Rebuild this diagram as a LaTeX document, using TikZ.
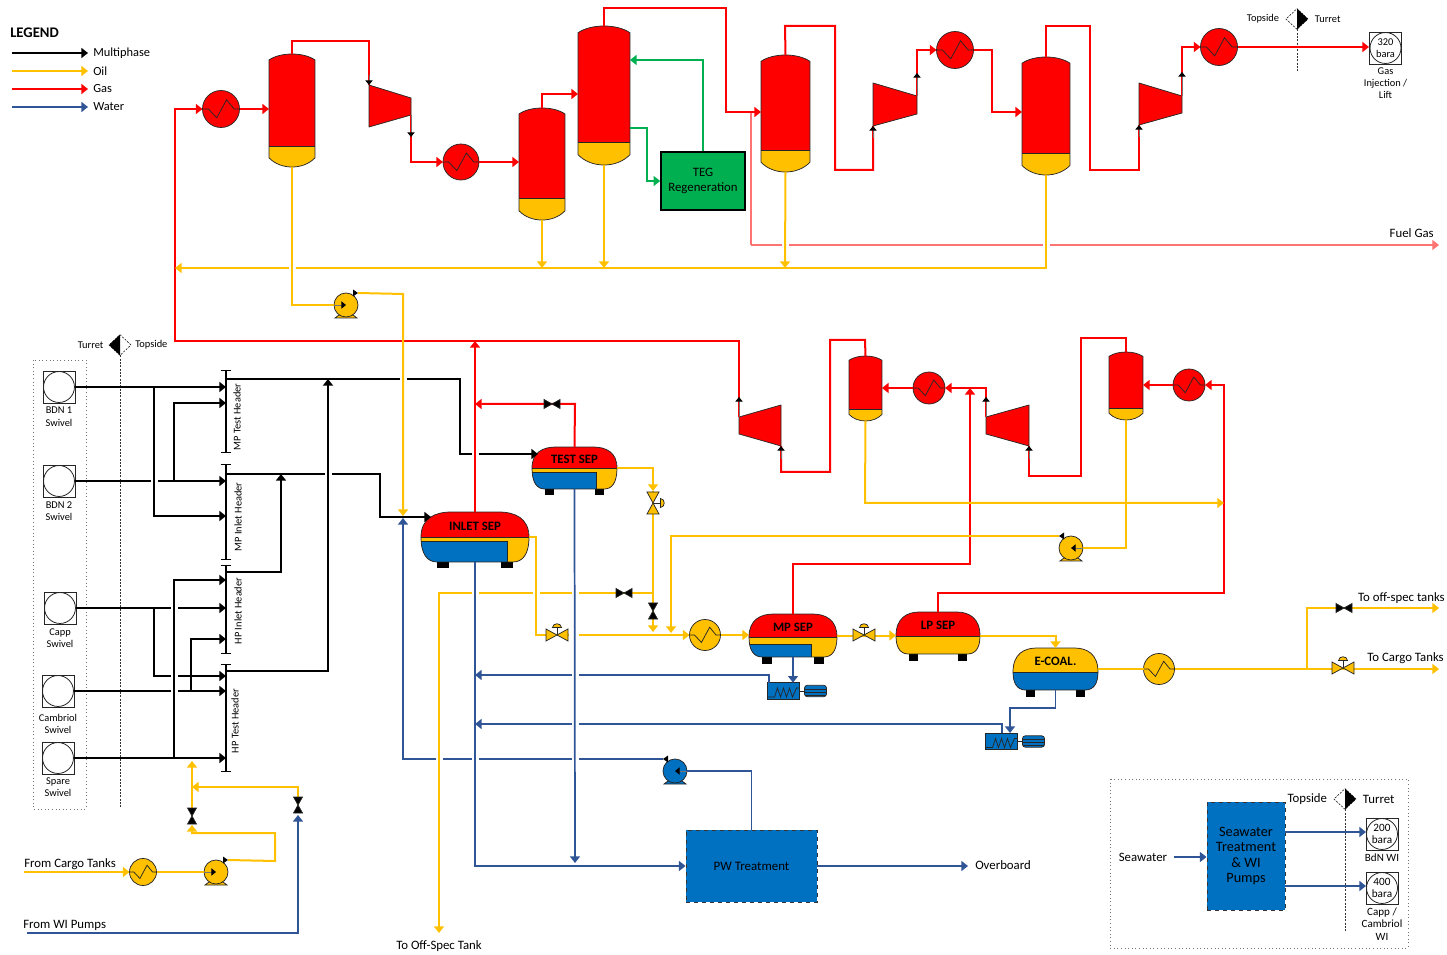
\documentclass[tikz,border=0pt]{standalone}
\usepackage{fontspec}
\setmainfont{Carlito}
\usepackage{tikz}
\usetikzlibrary{arrows.meta,positioning,shapes.geometric}
\definecolor{gasred}{HTML}{FF0000}
\definecolor{oilyel}{HTML}{FFC000}
\definecolor{wtrfill}{HTML}{0070C0}
\definecolor{wtrline}{HTML}{2F5597}
\definecolor{teggreen}{HTML}{00B050}
\newcommand{\fsm}{\fontsize{7.8}{9.2}\selectfont}
\newcommand{\fmd}{\fontsize{9.6}{11.5}\selectfont}
\newcommand{\fbg}{\fontsize{9.6}{11.6}\selectfont}
% vertical vessel: name, left, right, top, split, bottom
\newcommand{\vvessel}[6]{
\begin{scope}
\pgfmathsetmacro{\vw}{#3-#2}
\pgfmathsetmacro{\vt}{#4+.13*\vw}
\pgfmathsetmacro{\vtc}{#4-.043*\vw}
\pgfmathsetmacro{\vb}{#6-.2*\vw}
\pgfmathsetmacro{\vbc}{#6+.067*\vw}
\pgfmathsetmacro{\va}{#2+.25*\vw}
\pgfmathsetmacro{\vc}{#3-.25*\vw}
\def\vpath{(#2,\vt) .. controls (\va,\vtc) and (\vc,\vtc) .. (#3,\vt) -- (#3,\vb) .. controls (\vc,\vbc) and (\va,\vbc) .. (#2,\vb) -- cycle}
\begin{scope}
\clip \vpath;
\fill[gasred] (#2,#4-2) rectangle (#3,#5);
\fill[oilyel] (#2,#5) rectangle (#3,#6+2);
\end{scope}
\draw[eqp] \vpath;
\draw[eqp] (#2,#5) -- (#3,#5);
\node[hook,minimum width={\vw*.75pt},minimum height={(#6-#4)*.75pt}] (#1) at ({(#2+#3)/2},{(#4+#6)/2}) {};
\end{scope}
}
% horizontal separator: name, left, right, top, split, bottom, text, bands
\newcommand{\sepvessel}[8]{
\begin{scope}
\pgfmathsetmacro{\sw}{#3-#2}
\pgfmathsetmacro{\sa}{#5-.75*(#5-#4)}
\pgfmathsetmacro{\sb}{#5+.7*(#6-#5)}
\pgfmathsetmacro{\sla}{#2+.13*\sw}
\pgfmathsetmacro{\slb}{#2+.28*\sw}
\pgfmathsetmacro{\sra}{#3-.13*\sw}
\pgfmathsetmacro{\srb}{#3-.28*\sw}
\pgfmathsetmacro{\slc}{#2+.06*\sw}
\pgfmathsetmacro{\sld}{#2+.15*\sw}
\pgfmathsetmacro{\src}{#3-.06*\sw}
\pgfmathsetmacro{\srd}{#3-.15*\sw}
\def\spath{(#2,#5) .. controls (#2,\sa) and (\sla,#4) .. (\slb,#4) -- (\srb,#4) .. controls (\sra,#4) and (#3,\sa) .. (#3,#5) .. controls (#3,\sb) and (\src,#6) .. (\srd,#6) -- (\sld,#6) .. controls (\slc,#6) and (#2,\sb) .. cycle}
\fill[black] (\sld,#6) rectangle ({\sld+.11*\sw},#6+6.5);
\fill[black] (\srd,#6) rectangle ({\srd-.11*\sw},#6+6.5);
\begin{scope}
\clip \spath;
\fill[gasred] (#2,#4) rectangle (#3,#6);
#8
\draw[eqp] (#2,#5) -- (#3,#5);
\end{scope}
\draw[eqp] \spath;
\node[hook,minimum width={\sw*.75pt},minimum height={(#6-#4)*.75pt}] (#1) at ({(#2+#3)/2},{(#4+#6)/2}) {};
\node[septxt] (#1t) at ({(#2+#3)/2},{(#4+#5)/2+1.5}) {#7};
\end{scope}
}
% compressor: name, left x, left top, left bottom, right x, right top, right bottom
\newcommand{\compr}[7]{
\coordinate (#1a) at (#2,#3);
\coordinate (#1b) at (#2,#4);
\coordinate (#1c) at (#5,#6);
\coordinate (#1d) at (#5,#7);
\draw[eqp,fill=gasred] (#1a) -- (#1c) -- (#1d) -- (#1b) -- cycle;
}
% pump: name, x, y, colour, direction
\newcommand{\pump}[5]{
\draw[eqp,fill=#4] ({#2-11},#3+13) -- ({#2-7},#3+10) -- ({#2+7},#3+10) -- ({#2+11},#3+13) -- cycle;
\node[pumpc,fill=#4] (#1) at (#2,#3) {};
\coordinate (#1o) at ({#2+#5*12},#3-12);
\fill[black] ({#2+#5*7},#3-15.5) -- ({#2+#5*12},#3-12) -- ({#2+#5*7},#3-8.5) -- cycle;
\draw[stub] ({#2-#5*13},#3) -- (#1.center);
}
% hand valve: name, x, y, rotation, colour
\newcommand{\bowv}[5]{
\coordinate (#1) at (#2,#3);
\begin{scope}[shift={(#1)},rotate=#4]
\draw[eqp,fill=#5] (-8,-4.5) -- (8,4.5) -- (8,-4.5) -- (-8,4.5) -- cycle;
\end{scope}
}
% control valve: name, x, y, rotation
\newcommand{\ctlv}[4]{
\coordinate (#1) at (#2,#3);
\begin{scope}[shift={(#1)},rotate=#4]
\draw[eqp] (0,0) -- (0,-8);
\draw[eqp,fill=oilyel] (-11,-6) -- (11,6) -- (11,-6) -- (-11,6) -- cycle;
\draw[eqp,fill=oilyel] (-4.5,-7.5) .. controls (-4,-12.5) and (4,-12.5) .. (4.5,-7.5) -- cycle;
\end{scope}
}
% heater box with motor: name, x, y
\newcommand{\cooler}[3]{
\node[clbox] (#1) at (#2,#3) {};
\node[clmot,right=3.5pt of #1] (#1m) {};
\draw[eqp] (#1) -- (#1m);
}
\newcommand{\cuth}[2]{\draw[white,line width=2.8pt] ({#1-3.5},#2) -- ({#1+3.5},#2);}
\begin{document}
\begin{tikzpicture}[x=.75pt,y=-.75pt,
node distance=2pt,
eqp/.style={draw=black!85,line width=.55pt},
hook/.style={inner sep=0,outer sep=0},
septxt/.style={inner sep=0,font=\fbg\bfseries},
lbl/.style={inner sep=0,align=center,font=\fsm},
lblm/.style={inner sep=0,align=center,font=\fmd},
hdrtxt/.style={inner sep=0,font=\fsm,rotate=90},
gas/.style={draw=gasred,line width=1.5pt},
oil/.style={draw=oilyel,line width=1.5pt},
wtr/.style={draw=wtrline,line width=1.3pt},
mph/.style={draw=black,line width=1.4pt},
grn/.style={draw=teggreen,line width=1.3pt},
fuel/.style={draw=gasred!55,line width=.95pt},
arr/.style={-{Triangle[length=5pt,width=7.5pt]}},
stub/.style={draw=black!55,line width=.7pt,-{Triangle[length=3.5pt,width=5.5pt,color=black]}},
hx/.style n args={2}{circle,eqp,fill=#1,inner sep=0,outer sep=0,minimum size=#2*1.5pt,
path picture={\draw[eqp,shift={(path picture bounding box.center)},x=#2*.75pt,y=-#2*.75pt]
(-1,0) -- (-.68,0) -- (-.23,.48) -- (.3,-.5) -- (.71,0) -- (1,0);}},
pumpc/.style={circle,eqp,inner sep=0,outer sep=0,minimum size=18pt},
swiv/.style={draw=black!85,line width=.7pt,inner sep=0,outer sep=0,minimum size=24pt,align=center,font=\fsm,
path picture={\draw[line width=.6pt] (path picture bounding box.center) circle (11.6pt);}},
clbox/.style={eqp,fill=wtrfill,inner sep=0,outer sep=0,minimum width=24.5pt,minimum height=12.5pt,
path picture={\draw[eqp,shift={(path picture bounding box.center)}]
(-16,6) -- (-9,6) -- (-6,-3) -- (-3,6) -- (0,-3) -- (3,6) -- (6,-3) -- (9,6) -- (13,-3) -- (16,-3);}},
clmot/.style={eqp,fill=wtrfill,rounded corners=2pt,inner sep=0,outer sep=0,minimum width=16.5pt,minimum height=8.5pt,
path picture={\draw[line width=.4pt,shift={(path picture bounding box.center)}]
(-12,-2) -- (12,-2) (-12,1) -- (12,1) (-12,4) -- (12,4);}},
tdia/.style={diamond,draw,dashed,line width=.4pt,dash pattern=on 1.5pt off 1pt,inner sep=0,outer sep=0,minimum width=16.5pt,minimum height=15.5pt},
tline/.style={draw=black!80,line width=.6pt,dash pattern=on 1.5pt off 1pt},
dotbox/.style={draw=black!55,line width=.7pt,dotted},
eqbox/.style={draw=black!80,dashed,line width=.7pt,fill=wtrfill,inner sep=0,align=center,text=black},
hdrbar/.style={mph,{Bar[width=8pt,line width=1.1pt]}-{Bar[width=8pt,line width=1.1pt]}}
]
\useasboundingbox (0,0) rectangle (1447,955);

% legend
\node[inner sep=0,anchor=west,font=\fontsize{11}{13}\selectfont\bfseries] (lgd) at (10,33) {LEGEND};
\foreach \ya/\nm/\st/\txt in {53/lga/mph/Multiphase,71/lgb/oil/Oil,89/lgc/gas/Gas,107/lgd2/wtr/Water}{
\coordinate (\nm s) at (12,\ya);
\coordinate (\nm e) at (88,\ya);
\draw[\st,arr] (\nm s) -- (\nm e);
\node[lblm,anchor=west,font=\fontsize{9.3}{11}\selectfont] (\nm) at (93,\ya) {\txt};
}

% top train vessels
\vvessel{v1}{269}{315}{54}{146}{167}
\vvessel{v2}{519}{565}{108}{198}{220}
\vvessel{v3}{578}{630}{26}{142}{165}
\vvessel{v4}{761}{810}{55}{150}{172}
\vvessel{v5}{1022}{1070}{57}{153}{175}
\vvessel{v6}{849}{882}{356}{409}{421}
\vvessel{v7}{1109}{1143}{352}{408}{420}

\node[hx={gasred}{18.5}] (hx1) at (221,109) {};
\node[hx={gasred}{18}] (hx2) at (461,162) {};
\node[hx={gasred}{18.5}] (hx3) at (955,50) {};
\node[hx={gasred}{18.5}] (hx4) at (1219,47) {};
\node[hx={gasred}{16}] (hx5) at (929,388) {};
\node[hx={gasred}{16}] (hx6) at (1189,385) {};
\node[hx={oilyel}{13.5}] (hx7) at (143,872) {};
\node[hx={oilyel}{15.5}] (hx8) at (705,635) {};
\node[hx={oilyel}{15.5}] (hx9) at (1159,669) {};

\compr{c1}{369}{85}{127}{411}{98}{115}
\compr{c2}{873}{83}{126}{917}{96}{114}
\compr{c3}{1139}{83}{125}{1182}{96}{113}
\compr{c4}{739}{417}{434}{781}{405}{446}
\compr{c5}{986}{417}{434}{1029}{405}{446}

\pump{p1}{346}{305}{oilyel}{1}
\pump{p2}{1071}{548}{oilyel}{-1}
\pump{p3}{216}{872}{oilyel}{1}
\pump{p4}{675}{771}{wtrfill}{-1}

\sepvessel{isep}{421}{529}{512}{537}{562}{INLET SEP}{\fill[oilyel] (421,537) rectangle (529,562); \fill[wtrfill] (421,541) rectangle (507,562); \draw[eqp] (421,541) -- (507,541) -- (507,562);}
\sepvessel{tsep}{532}{617}{447}{468}{489}{TEST SEP}{\fill[oilyel] (532,468) rectangle (617,489); \fill[wtrfill] (532,472) rectangle (596,489); \draw[eqp] (532,472) -- (596,472) -- (596,489);}
\sepvessel{msep}{749}{837}{614}{637}{657}{MP SEP}{\fill[oilyel] (749,637) rectangle (837,657); \fill[wtrfill] (749,644) rectangle (811,657); \draw[eqp] (749,644) -- (811,644) -- (811,657);}
\sepvessel{lsep}{896}{980}{612}{636}{654}{LP SEP}{\fill[oilyel] (896,636) rectangle (980,654);}
\sepvessel{esep}{1013}{1098}{648}{672}{690}{E-COAL.}{\fill[oilyel] (1013,648) rectangle (1098,672); \fill[wtrfill] (1013,672) rectangle (1098,690);}

\cooler{cl1}{783.5}{691}
\cooler{cl2}{1001.5}{741.5}

\node[draw=black,line width=1.2pt,fill=teggreen,inner sep=0,align=center,minimum width=63pt,minimum height=43.5pt,font=\fontsize{9.6}{11.6}\selectfont] (teg) at (703,181) {TEG\\Regeneration};
\node[eqbox,minimum width=98.25pt,minimum height=54pt,font=\fontsize{9.7}{11}\selectfont] (pw) at (751.5,866) {PW Treatment};
\node[eqbox,minimum width=58.5pt,minimum height=81pt,font=\fontsize{10.7}{11.6}\selectfont] (swb) at (1246,856) {Seawater\\Treatment\\\& WI\\Pumps};

% swivels
\draw[dotbox] (33,360) rectangle (86,809);
\node[swiv] (bdn1) at (59,387) {};
\node[swiv] (bdn2) at (59,481) {};
\node[swiv] (capp) at (60,608) {};
\node[swiv] (camb) at (58,691) {};
\node[swiv] (spar) at (58,758) {};
\node[lbl,below=3pt of bdn1] (bdn1t) {BDN 1\\Swivel};
\node[lbl,below=3pt of bdn2] (bdn2t) {BDN 2\\Swivel};
\node[lbl,below=3pt of capp] (cappt) {Capp\\Swivel};
\node[lbl,below=5pt of camb] (cambt) {Cambriol\\Swivel};
\node[lbl,below=2.5pt of spar] (spart) {Spare\\Swivel};
\node[swiv] (inj) at (1385.5,48) {320\\bara};
\node[lbl,below=2.5pt of inj] (injt) {Gas\\Injection /\\Lift};
\node[swiv,font=\fontsize{8.4}{9}\selectfont] (s200) at (1382,834) {200\\bara};
\node[swiv,font=\fontsize{8.4}{9}\selectfont] (s400) at (1382,888) {400\\bara};
\node[lblm,font=\fontsize{8.3}{9.4}\selectfont,below=2.5pt of s200] (s200t) {BdN WI};
\node[lblm,font=\fontsize{8.3}{9.4}\selectfont,below=2.5pt of s400] (s400t) {Capp /\\Cambriol\\WI};

% turret markers
\node[tdia,fill=white] (tur1) at (120,345) {};
\fill[black] (tur1.north) -- (tur1.west) -- (tur1.south) -- cycle;
\node[lbl,left=4pt of tur1] (tur1l) {Turret};
\node[lbl,right=3pt of tur1] (tur1r) {Topside};
\coordinate (tur1e) at (120,808);
\draw[tline] (tur1.south) -- (tur1e);
\node[tdia,fill=white] (tur2) at (1297,19) {};
\fill[black] (tur2.north) -- (tur2.east) -- (tur2.south) -- cycle;
\node[lbl,left=5pt of tur2] (tur2l) {Topside};
\node[lbl,right=5pt of tur2] (tur2r) {Turret};
\coordinate (tur2e) at (1297,72);
\draw[tline] (tur2.south) -- (tur2e);
\node[tdia,fill=white] (tur3) at (1345,799) {};
\fill[black] (tur3.north) -- (tur3.east) -- (tur3.south) -- cycle;
\node[lblm,left=5pt of tur3] (tur3l) {Topside};
\node[lblm,right=5pt of tur3] (tur3r) {Turret};
\coordinate (tur3e) at (1345,932);
\draw[tline] (tur3.south) -- (tur3e);

% multiphase headers
\coordinate (h1t) at (226,370); \coordinate (h1b) at (226,453);
\coordinate (h2t) at (226,464); \coordinate (h2b) at (226,560);
\coordinate (h3t) at (226,565); \coordinate (h3b) at (226,654);
\coordinate (h4t) at (226,664); \coordinate (h4b) at (226,772);
\draw[hdrbar] (h1t) -- (h1b);
\draw[hdrbar] (h2t) -- (h2b);
\draw[hdrbar] (h3t) -- (h3b);
\draw[hdrbar] (h4t) -- (h4b);
\node[hdrtxt] (h1x) at (237,417) {MP Test Header};
\node[hdrtxt] (h2x) at (238,517) {MP Inlet Header};
\node[hdrtxt] (h3x) at (238,611) {HP Inlet Header};
\node[hdrtxt] (h4x) at (235,721) {HP Test Header};

% multiphase lines
\coordinate (mto) at (226,379);
\coordinate (mio) at (226,474);
\coordinate (hio) at (226,572);
\coordinate (hto) at (226,671);
\coordinate (tsepi) at (538,454);
\coordinate (isepi) at (431,517);
\draw[mph,arr] (bdn1.east) -- (bdn1 -| h1t);
\draw[mph,arr] (bdn2.east) -- (bdn2 -| h1t);
\draw[mph,arr] (capp.east) -- (capp -| h1t);
\draw[mph,arr] (camb.east) -- (camb -| h1t);
\draw[mph,arr] (spar.east) -- (spar -| h1t);
\draw[mph,arr] (mto) -- (460,379) -- (460,454) -- (tsepi);
\draw[mph,arr] (mio) -- (380,474) -- (380,517) -- (isepi);
\coordinate (j1a) at (154,387); \coordinate (j1b) at (226,516);
\coordinate (j2a) at (174,481); \coordinate (j2b) at (226,403);
\coordinate (j3a) at (154,608); \coordinate (j3b) at (226,676);
\coordinate (j4a) at (174,758); \coordinate (j4b) at (226,580);
\coordinate (j5a) at (191,691); \coordinate (j5b) at (226,639);
\draw[mph,arr] (j3a) |- (j3b);
\cuth{154}{481}
\cuth{328}{474}
\cuth{403}{379}
\cuth{174}{608}
\cuth{174}{676}
\cuth{174}{691}
\cuth{475}{454}
\draw[mph,arr] (j1a) |- (j1b);
\draw[mph,arr] (j2a) |- (j2b);
\draw[mph,arr] (j4a) |- (j4b);
\draw[mph,arr] (j5a) |- (j5b);
\coordinate (mtj) at (328,379);
\coordinate (mij) at (281,474);
\draw[mph,arr] (hto) -| (mtj);
\draw[mph,arr] (hio) -| (mij);

% gas
\coordinate (gh) at (475,341);
\coordinate (gt) at (475,404);
\coordinate (gm) at (970,388);
\coordinate (ginj) at (1369,47);
\draw[gas,arr] (c4a) -- (739,341) -- (175,341) -- (175,109) -- (hx1.west);
\draw[gas,arr] (hx1.east) -- (hx1 -| v1.west);
\draw[gas] (v1.north) -- (292,41) -- (369,41) -- (c1a);
\draw[gas,arr] (c1d) -- (411,162) -- (hx2.west);
\draw[gas,arr] (hx2.east) -- (hx2 -| v2.west);
\draw[gas,arr] (v2.north) -- (542,94) -- (v3.west |- 0,94);
\draw[fuel] (751,112) -- (751,245);
\coordinate (fg0) at (751,245);
\coordinate (fg1) at (1439,245);
\draw[fuel,arr] (fg0) -- (fg1);
\cuth{785}{245}
\cuth{1046}{245}
\draw[gas,arr] (v3.north) -- (604,8) -- (726,8) -- (726,112) -- (v4.west |- 0,112);
\draw[gas] (v4.north) -- (785,26) -- (835,26) -- (835,170) -- (873,170) -- (c2b);
\draw[gas,arr] (c2c) -- (917,50) -- (hx3.west);
\draw[gas,arr] (hx3.east) -- (992,50) -- (992,112) -- (v5.west |- 0,112);
\draw[gas] (v5.north) -- (1046,26) -- (1090,26) -- (1090,170) -- (1139,170) -- (c3b);
\draw[gas,arr] (c3c) -- (1182,47) -- (hx4.west);
\draw[gas,arr] (hx4.east) -- (ginj);
\draw[gas,arr] (isep.north) -- (gh);
\draw[gas,arr] (tsep.north) -- (575,404) -- (gt);
\draw[gas] (v6.north) -- (865,340) -- (830,340) -- (830,472) -- (781,472) -- (c4d);
\draw[gas,arr] (hx5.west) -- (hx5 -| v6.east);
\draw[gas,arr] (c5a) -- (986,388) -- (hx5.east);
\draw[gas] (v7.north) -- (1126,338) -- (1081,338) -- (1081,476) -- (1029,476) -- (c5d);
\draw[gas,arr] (hx6.west) -- (hx6 -| v7.east);
\draw[gas,arr] (lsep.north) -- (938,593) -- (1224,593) -- (1224,385) -- (hx6.east);
\draw[gas,arr] (msep.north) -- (793,564) -- (970,564) -- (gm);
% stubs at the compressors
\draw[stub] (c1a) ++(0,-10) -- (c1a);
\draw[stub] (c1d) -- ++(0,22);
\draw[stub] (c2b) ++(0,12) -- (c2b);
\draw[stub] (c2c) -- ++(0,-23);
\draw[stub] (c3b) ++(0,12) -- (c3b);
\draw[stub] (c3c) -- ++(0,-24);
\draw[stub] (c4a) -- ++(0,-20);
\draw[stub] (c4d) ++(0,13) -- (c4d);
\draw[stub] (c5a) -- ++(0,-20);
\draw[stub] (c5d) ++(0,13) -- (c5d);

% glycol
\draw[grn,arr] (teg.north) -- (703,60) -- (v3.east |- 0,60);
\draw[grn,arr] (v3.east |- 0,128) -- (647,128) -- (647,181) -- (teg.west);

% water returns, laid first for the gaps
\coordinate (wp) at (403,518);
\coordinate (wa) at (475,675);
\coordinate (wb) at (475,724);
\coordinate (clo1) at (769,683);
\coordinate (clo2) at (1002,733);
\draw[wtr,arr] (p4o) -- (403,759) -- (wp);
\draw[wtr,arr] (clo1) -- (769,675) -- (wa);
\draw[wtr,arr] (clo2) -- (1002,724) -- (wb);
\cuth{439}{759}
\cuth{475}{759}
\cuth{575}{759}
\cuth{575}{675}
\cuth{575}{724}

% oil
\coordinate (oh) at (175,268);
\coordinate (ov2) at (542,268);
\coordinate (ov3) at (604,268);
\coordinate (ov4) at (785,268);
\coordinate (oin) at (403,516);
\draw[oil,arr] (v5.south) -- (1046,268) -- (oh);
\cuth{292}{268}
\draw[oil] (v1.south) -- (292,305) -- (p1.west);
\draw[oil,arr] (p1o) -- (403,294) -- (oin);
\draw[oil,arr] (v2.south) -- (ov2);
\draw[oil,arr] (v3.south) -- (ov3);
\draw[oil,arr] (v4.south) -- (ov4);
\coordinate (oj2) at (653,491);
\coordinate (oj3) at (653,632);
\coordinate (oj4) at (653,593);
\coordinate (ofs) at (439,933);
\draw[oil,arr] (tsep.east) -- (653,468) -- (oj2);
\draw[oil,arr] (oj2) -- (oj3);
\draw[oil,arr] (oj4) -- (439,593) -- (ofs);
\cuth{475}{593}
\cuth{536}{593}
\cuth{575}{593}
\draw[oil,arr] (isep.east) -- (536,537) -- (536,635) -- (hx8.west);
\cuth{572}{635}
\cuth{575}{635}
\draw[oil,arr] (hx8.east) -- (hx8 -| msep.west);
\draw[oil,arr] (msep.east) -- (msep -| lsep.west);
\draw[oil,arr] (lsep.east |- msep) -- (1055.5,635.5) -- (esep.north);
\coordinate (oj1) at (671,633);
\coordinate (oe1) at (1224,503);
\draw[oil,arr] (v6.south) -- (865,503) -- (oe1);
\draw[oil] (v7.south) -- (1126,548) -- (p2.east);
\draw[oil,arr] (p2o) -- (671,536) -- (oj1);
\draw[oil] (esep.east) -- (hx9.west);
\coordinate (oc1) at (1439,669);
\coordinate (oc2) at (1439,608);
\coordinate (oc3) at (1307,669);
\draw[oil,arr] (hx9.east) -- (oc1);
\draw[oil,arr] (oc3) -- (1307,608) -- (oc2);
\coordinate (fct) at (24,872);
\coordinate (fc1) at (192,825);
\coordinate (fc2) at (192,761);
\coordinate (fc3) at (192,816);
\coordinate (fc4) at (298,805);
\coordinate (fc5) at (192,787);
\draw[oil,arr] (fct) -- (hx7.west);
\draw[oil] (hx7.east) -- (p3.west);
\draw[oil,arr] (p3o) -- (275,861) -- (275,833) -- (192,833) -- (fc1);
\draw[oil,arr] (fc3) -- (fc2);
\draw[oil,arr] (fc4) -- (298,787) -- (fc5);

% water
\coordinate (wt) at (575,863);
\coordinate (ovb) at (968,866);
\coordinate (fwi) at (27,933);
\coordinate (fwe) at (298,815);
\draw[wtr,arr] (isep.south) |- (pw.west);
\draw[wtr,arr] (tsep.south) -- (wt);
\draw[wtr] (pw.north) -- (751.5,771) -- (p4.east);
\draw[wtr,arr] (pw.east) -- (ovb);
\draw[wtr,arr] (msep.south) -- (msep.south |- cl1.north);
\coordinate (cl2i) at (1010,733);
\draw[wtr,arr] (esep.south) -- (1055.5,708) -- (1010,708) -- (cl2i);
\draw[wtr,arr] (fwi) -- (298,933) -- (fwe);
\coordinate (swi) at (1174,857);
\coordinate (so1) at (1285,832);
\coordinate (so2) at (1285,886);
\draw[wtr,arr] (swi) -- (swi -| swb.west);
\draw[wtr,arr] (so1) -- (s200.west |- so1);
\draw[wtr,arr] (so2) -- (s400.west |- so2);

% valves
\bowv{bv1}{552}{404}{0}{black}
\bowv{bv2}{624}{593}{0}{black}
\bowv{bv3}{653}{611}{90}{black}
\bowv{bv4}{192}{816}{90}{black}
\bowv{bv5}{298}{805}{90}{black}
\bowv{bv6}{1344}{608}{0}{black}
\ctlv{cv1}{557}{635}{0}
\ctlv{cv2}{653}{503}{-90}
\ctlv{cv3}{864}{635}{0}
\ctlv{cv4}{1343}{668}{0}

% texts
\node[lblm,anchor=south east] (fgt) at (1434,238) {Fuel Gas};
\node[lblm,anchor=east] (tos) at (1445,598) {To off-spec tanks};
\node[lblm,anchor=east] (tct) at (1444,658) {To Cargo Tanks};
\node[lblm,anchor=west] (fct2) at (24,864) {From Cargo Tanks};
\node[lblm,anchor=west] (fwt) at (23,925) {From WI Pumps};
\node[lblm] (ofst) at (439,946) {To Off-Spec Tank};
\node[lblm,anchor=west] (ovbt) at (975,865) {Overboard};
\node[lblm] (swt) at (1143,857) {Seawater};
\draw[dotbox] (1110,779) rectangle (1408,948);
\end{tikzpicture}
\end{document}
